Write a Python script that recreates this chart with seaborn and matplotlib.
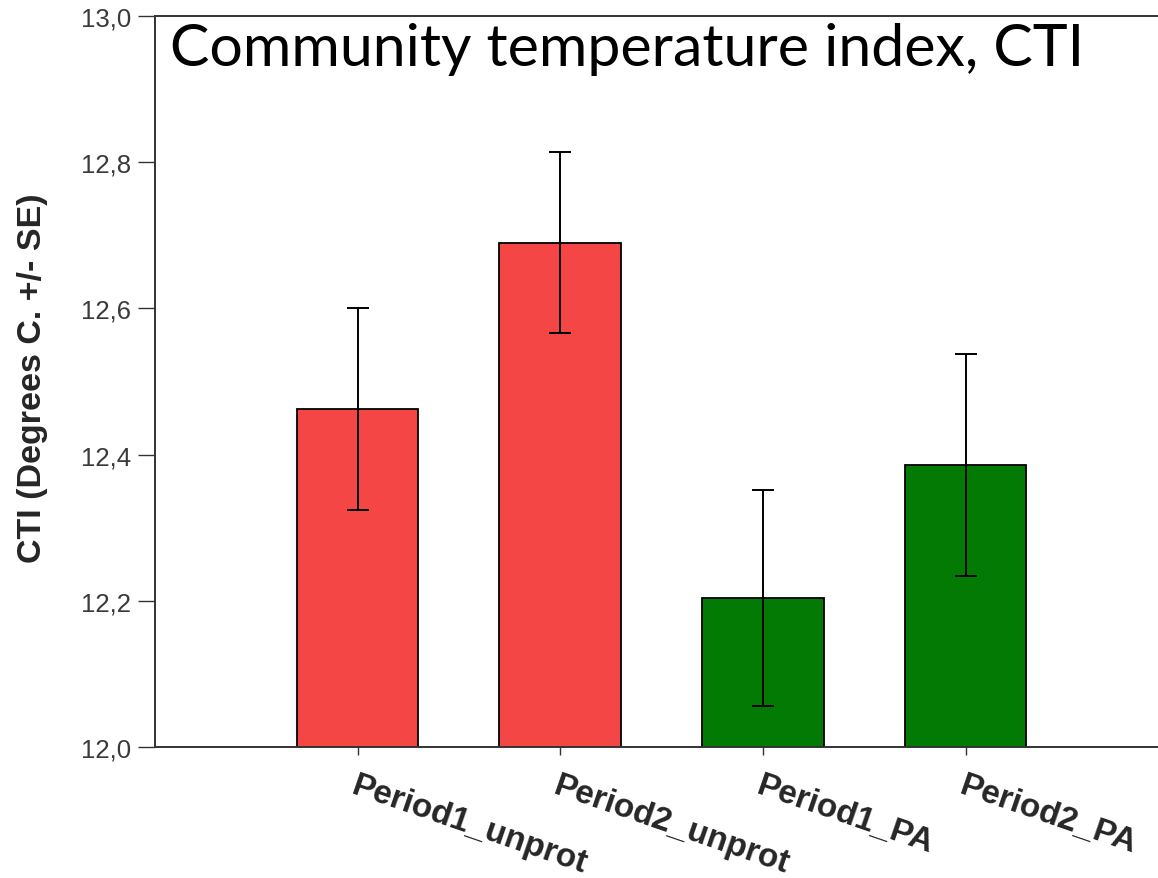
import matplotlib
matplotlib.use("Agg")
import matplotlib.pyplot as plt
import seaborn as sns
import pandas as pd

# Mean community temperature index per group, with standard errors
groups = ["Period1_unprot", "Period2_unprot", "Period1_PA", "Period2_PA"]
cti_mean = [12.462, 12.690, 12.204, 12.386]
cti_se = [0.138, 0.124, 0.148, 0.152]
bar_colors = ["#F54646", "#F54646", "#037A03", "#037A03"]
y_ticks = [12.0, 12.2, 12.4, 12.6, 12.8, 13.0]
y_tick_labels = ["12,0", "12,2", "12,4", "12,6", "12,8", "13,0"]

sns.set_theme(style="white")
plt.rcParams["font.family"] = ["Liberation Sans", "DejaVu Sans"]

df = pd.DataFrame({"group": groups, "cti": cti_mean})

fig = plt.figure(figsize=(11.58, 8.79), dpi=100)
ax = fig.add_axes([155 / 1158, 131 / 879, 1 - 155 / 1158, (748 - 17) / 879])

sns.barplot(data=df, x="group", y="cti", hue="group", palette=bar_colors,
            saturation=1, legend=False, width=0.6, edgecolor="black",
            linewidth=1.3, ax=ax)
ax.errorbar(range(len(groups)), cti_mean, yerr=cti_se, fmt="none",
            ecolor="black", elinewidth=1.4, capsize=8, capthick=1.4)

ax.set_ylim(12.0, 13.0)
ax.set_xlim(-1.0, 3.95)
ax.set_yticks(y_ticks)
ax.set_yticklabels(y_tick_labels, fontsize=18.5, color="#3a3a3a")
ax.set_xticks(range(len(groups)))
ax.set_xticklabels(groups, fontsize=24, fontweight="bold", rotation=-19,
                   ha="left", va="top", rotation_mode="anchor")
ax.tick_params(axis="y", direction="out", length=12, width=1.0, color="#333333",
               left=True, pad=5)
ax.tick_params(axis="x", direction="out", length=6, width=1.0, color="#333333",
               bottom=True, pad=10)
ax.set_xlabel("")
ax.set_ylabel("")

for side in ["left", "bottom", "top"]:
    ax.spines[side].set_visible(True)
    ax.spines[side].set_color("#333333")
    ax.spines[side].set_linewidth(1.4)
ax.spines["right"].set_visible(False)

fig.text(33 / 1158, 1 - 378 / 879, "CTI (Degrees C. +/- SE)", rotation=90,
         ha="center", va="center", fontsize=24.5, fontweight="bold")

fig.text(170 / 1158, 1 - 66 / 879, "Community temperature index, CTI",
         ha="left", va="baseline", fontsize=42.5, color="black",
         family=["Lato", "DejaVu Sans"])

fig.savefig("out.png", dpi=100, facecolor="white")
